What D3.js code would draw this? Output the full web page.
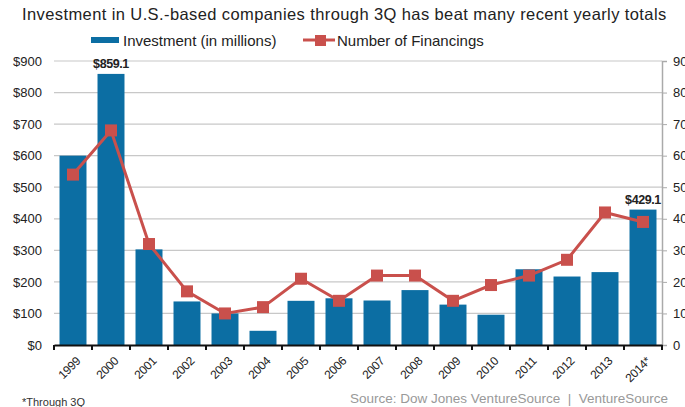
<!DOCTYPE html>
<html>
<head>
<meta charset="utf-8">
<script src="https://cdn.jsdelivr.net/npm/d3@7"></script>
<style>
  body { margin: 0; background: #fff; }
  svg { font-family: "Liberation Sans", Arial, sans-serif; display: block; }
</style>
</head>
<body>
<div id="chart"></div>
<script>
// data
const years = ["1999", "2000", "2001", "2002", "2003", "2004", "2005", "2006",
               "2007", "2008", "2009", "2010", "2011", "2012", "2013", "2014*"];
const investment = [600, 859.1, 303, 138, 100, 45, 140, 148,
                    141, 174, 128, 96, 240, 217, 231, 429.1];
const financings = [540, 680, 320, 170, 100, 120, 210, 140,
                    220, 220, 140, 190, 220, 270, 420, 390];
const leftTicks = [0, 100, 200, 300, 400, 500, 600, 700, 800, 900];
const rightTicks = [0, 100, 200, 300, 400, 500, 600, 700, 800, 900];
const labelled = { "2000": "$859.1", "2014*": "$429.1" };

const W = 685, H = 407;
const margin = { top: 61, right: 23, bottom: 62, left: 54 };
const width = W - margin.left - margin.right,
      height = H - margin.top - margin.bottom;

const blue = "#0c6ea3", red = "#c9504c";

const root = d3.select("#chart").append("svg")
    .attr("width", W).attr("height", H);

root.append("text")
    .attr("x", 22).attr("y", 20)
    .style("font-size", "16.5px").style("fill", "#222").style("letter-spacing", "0.4px")
    .text("Investment in U.S.-based companies through 3Q has beat many recent yearly totals");

// legend
const lg = root.append("g");
lg.append("rect").attr("x", 91).attr("y", 37).attr("width", 28).attr("height", 6).attr("fill", blue);
lg.append("text").attr("x", 123).attr("y", 46).style("font-size", "15px").style("fill", "#222")
    .text("Investment (in millions)");
lg.append("line").attr("x1", 303).attr("x2", 335).attr("y1", 40).attr("y2", 40)
    .attr("stroke", red).attr("stroke-width", 3);
lg.append("rect").attr("x", 315).attr("y", 35).attr("width", 11).attr("height", 11).attr("fill", red);
lg.append("text").attr("x", 337).attr("y", 46).style("font-size", "15px").style("fill", "#222")
    .text("Number of Financings");

const svg = root.append("g")
    .attr("transform", `translate(${margin.left},${margin.top})`);

const x = d3.scaleBand().domain(years).range([0, width]).paddingInner(0.29).paddingOuter(0.145);
const xb = d3.scaleBand().domain(years).range([0, width]);
const y = d3.scaleLinear().domain([0, 900]).range([height, 0]);
const y2 = d3.scaleLinear().domain([0, 900]).range([height, 0]);

// gridlines
svg.append("g")
    .selectAll("line")
    .data(leftTicks.slice(1))
    .enter().append("line")
    .attr("x1", 0).attr("x2", width)
    .attr("y1", d => y(d)).attr("y2", d => y(d))
    .attr("stroke", "#c8c8c8").attr("stroke-width", 1.2);

// left axis labels
const yAxis = svg.append("g")
    .call(d3.axisLeft(y).tickValues(leftTicks).tickFormat(d => "$" + d).tickSize(0).tickPadding(12));
yAxis.select(".domain").remove();
yAxis.selectAll("text").style("font-size", "13px").style("fill", "#222")
    .style("font-family", "Liberation Sans, Arial, sans-serif");

// right axis (labels run past the page edge, as in the source)
const yAxisR = svg.append("g")
    .attr("transform", `translate(${width},0)`)
    .call(d3.axisRight(y2).tickValues(rightTicks).tickSize(5).tickPadding(6));
yAxisR.select(".domain").attr("stroke", "#aaa").attr("stroke-width", 1.5);
yAxisR.selectAll(".tick line").attr("stroke", "#aaa");
yAxisR.selectAll("text").style("font-size", "13px").style("fill", "#222")
    .style("font-family", "Liberation Sans, Arial, sans-serif");

// bars
svg.selectAll(".bar")
    .data(years)
    .enter().append("rect")
    .attr("class", "bar")
    .attr("x", d => x(d))
    .attr("y", (d, i) => y(investment[i]))
    .attr("width", x.bandwidth())
    .attr("height", (d, i) => height - y(investment[i]))
    .attr("fill", blue);

// bar value labels
svg.selectAll(".vlabel")
    .data(years.filter(d => labelled[d]))
    .enter().append("text")
    .attr("x", d => x(d) + x.bandwidth() / 2)
    .attr("y", d => y(investment[years.indexOf(d)]) - 6)
    .attr("text-anchor", "middle")
    .style("font-size", "12.5px").style("font-weight", "bold").style("fill", "#222")
    .style("letter-spacing", "-0.4px")
    .text(d => labelled[d]);

// bottom axis
const xAxis = svg.append("g")
    .attr("transform", `translate(0,${height})`)
    .call(d3.axisBottom(xb).tickSize(0).tickPadding(13));
xAxis.select(".domain").attr("stroke", "#111").attr("stroke-width", 2);
xAxis.selectAll("text")
    .attr("transform", "rotate(-45)")
    .attr("dx", "-0.5em").attr("dy", "0.4em")
    .style("text-anchor", "end")
    .style("font-size", "12px").style("fill", "#222").style("letter-spacing", "-0.3px")
    .style("font-family", "Liberation Sans, Arial, sans-serif");
// ticks at band boundaries
svg.append("g")
    .selectAll("line")
    .data(years.concat(["end"]))
    .enter().append("line")
    .attr("x1", (d, i) => i * xb.step()).attr("x2", (d, i) => i * xb.step())
    .attr("y1", height).attr("y2", height + 5)
    .attr("stroke", "#111").attr("stroke-width", 2);

// financings line
const line = d3.line()
    .x((d, i) => x(years[i]) + x.bandwidth() / 2)
    .y(d => y2(d));
svg.append("path")
    .datum(financings)
    .attr("d", line)
    .attr("fill", "none")
    .attr("stroke", red)
    .attr("stroke-width", 3);
svg.selectAll(".mk")
    .data(financings)
    .enter().append("rect")
    .attr("x", (d, i) => x(years[i]) + x.bandwidth() / 2 - 6)
    .attr("y", d => y2(d) - 6)
    .attr("width", 12).attr("height", 12)
    .attr("fill", red);

// footnotes
root.append("text").attr("x", 22).attr("y", 406)
    .style("font-size", "11px").style("fill", "#333").text("*Through 3Q");
root.append("text").attr("x", 668).attr("y", 403).attr("text-anchor", "end")
    .attr("xml:space", "preserve").style("white-space", "pre")
    .style("font-size", "13.5px").style("fill", "#999")
    .text("Source: Dow Jones VentureSource  |  VentureSource");
</script>
</body>
</html>
